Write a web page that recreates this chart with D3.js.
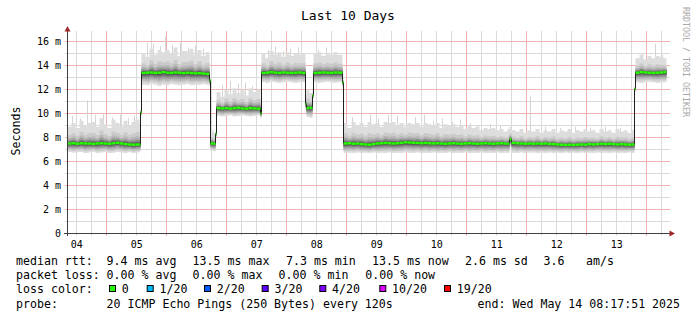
<!DOCTYPE html>
<html>
<head>
<meta charset="utf-8">
<script src="https://cdn.jsdelivr.net/npm/d3@7"></script>
<style>
  body { margin: 0; background: #fff; }
  text { font-family: "DejaVu Sans Mono", monospace; }
</style>
</head>
<body>
<svg width="697" height="321"></svg>
<script>
// graph end, span is 10 days back from here
const endTime = new Date(Date.UTC(2025, 4, 14, 8, 17, 51))
const startTime = new Date(+endTime - 10 * 864e5)
const dataEndHour = 239.6

const yTicks = [0, 2, 4, 6, 8, 10, 12, 14, 16]

// [hours since start, median ms, min ms, typical max ms]
const samples = [
  [0, 7.50, 6.80, 8.9], [1.6, 7.52, 6.72, 9.2], [3.2, 7.48, 6.78, 8.8], [4.8, 7.52, 6.80, 9.4],
  [6.4, 7.50, 6.70, 9.0], [8.0, 7.50, 6.75, 9.2], [9.6, 7.47, 6.80, 9.3], [11.2, 7.50, 6.70, 8.9],
  [12.8, 7.52, 6.75, 9.6], [14.4, 7.50, 6.80, 9.1], [16.0, 7.48, 6.70, 8.8], [17.6, 7.52, 6.72, 9.5],
  [19.2, 7.56, 6.80, 9.2], [20.8, 7.50, 6.75, 8.9], [22.4, 7.45, 6.70, 9.4], [24.0, 7.42, 6.78, 9.0],
  [25.6, 7.40, 6.70, 9.3], [27.2, 7.42, 6.75, 9.5], [28.8, 7.40, 6.80, 9.1],
  [29.2, 10.10, 9.80, 10.4],
  [29.6, 13.38, 12.40, 15.0], [31.2, 13.40, 12.35, 14.7], [32.8, 13.42, 12.45, 15.4], [34.4, 13.38, 12.40, 14.9],
  [36.0, 13.40, 12.30, 15.3], [37.6, 13.45, 12.40, 15.1], [39.2, 13.40, 12.35, 15.3], [40.8, 13.38, 12.45, 15.0],
  [42.4, 13.42, 12.40, 15.5], [44.0, 13.40, 12.35, 14.8], [45.6, 13.36, 12.40, 15.2], [47.2, 13.40, 12.45, 15.2],
  [48.8, 13.38, 12.35, 15.4], [50.4, 13.35, 12.40, 14.9], [52.0, 13.36, 12.40, 15.3], [53.6, 13.33, 12.45, 14.8],
  [55.2, 13.30, 12.40, 15.1],
  [56.8, 12.75, 12.30, 13.0],
  [57.2, 7.50, 6.90, 8.6], [58.4, 7.48, 6.85, 8.4],
  [59.2, 8.30, 8.00, 8.6],
  [59.6, 10.45, 9.80, 11.8], [61.2, 10.42, 9.75, 11.4], [62.8, 10.45, 9.80, 12.0], [64.4, 10.40, 9.85, 11.6],
  [66.0, 10.45, 9.75, 12.1], [67.6, 10.48, 9.80, 11.7], [69.2, 10.42, 9.85, 12.0], [70.8, 10.40, 9.80, 11.5],
  [72.4, 10.45, 9.75, 12.1], [74.0, 10.42, 9.80, 11.8], [75.6, 10.40, 9.85, 12.0],
  [77.2, 10.00, 9.60, 10.3],
  [77.6, 13.38, 12.60, 15.0], [79.2, 13.40, 12.55, 14.6], [80.8, 13.45, 12.65, 15.2], [82.4, 13.40, 12.60, 14.9],
  [84.0, 13.38, 12.55, 15.1], [85.6, 13.42, 12.60, 14.7], [87.2, 13.40, 12.65, 15.1], [88.8, 13.38, 12.60, 14.8],
  [90.4, 13.40, 12.55, 15.0], [92.0, 13.42, 12.60, 14.9], [93.6, 13.38, 12.60, 15.0],
  [95.2, 10.80, 10.30, 11.6], [95.6, 10.45, 9.70, 12.0], [96.8, 10.48, 9.65, 11.7],
  [98.0, 11.50, 11.20, 11.9],
  [98.4, 13.38, 12.60, 15.0], [100.0, 13.40, 12.55, 15.1], [101.6, 13.42, 12.60, 14.8], [103.2, 13.40, 12.65, 15.0],
  [104.8, 13.38, 12.60, 14.9], [106.4, 13.42, 12.55, 15.1], [108.0, 13.40, 12.60, 14.9],
  [110.0, 12.60, 12.20, 13.0],
  [110.4, 7.50, 6.70, 9.2], [112.0, 7.52, 6.72, 8.8], [113.6, 7.48, 6.70, 9.3], [115.2, 7.50, 6.75, 9.0],
  [116.8, 7.45, 6.70, 9.2], [118.4, 7.42, 6.72, 8.9], [120.0, 7.40, 6.70, 9.3], [121.6, 7.45, 6.75, 9.1],
  [123.2, 7.50, 6.70, 9.2], [124.8, 7.52, 6.72, 8.9], [126.4, 7.55, 6.70, 9.3], [128.0, 7.52, 6.75, 9.2],
  [129.6, 7.50, 6.70, 9.3], [131.2, 7.52, 6.72, 9.0], [132.8, 7.55, 6.70, 9.2], [134.4, 7.60, 6.75, 8.9],
  [136.0, 7.58, 6.72, 9.2], [137.6, 7.56, 6.70, 9.1], [139.2, 7.55, 6.75, 9.2], [140.8, 7.52, 6.70, 8.9],
  [142.4, 7.55, 6.72, 9.2], [144.0, 7.52, 6.70, 9.1], [145.6, 7.50, 6.75, 9.0], [147.2, 7.52, 6.70, 9.2],
  [148.8, 7.50, 6.72, 8.8], [150.4, 7.48, 6.70, 9.1], [152.0, 7.50, 6.75, 9.0], [153.6, 7.52, 6.70, 9.1],
  [155.2, 7.50, 6.72, 8.9], [156.8, 7.48, 6.70, 9.0], [158.4, 7.50, 6.75, 8.7], [160.0, 7.52, 6.70, 9.0],
  [161.6, 7.50, 6.72, 8.8], [163.2, 7.48, 6.70, 8.9], [164.8, 7.50, 6.75, 8.6], [166.4, 7.52, 6.70, 8.8],
  [168.0, 7.50, 6.72, 8.7], [169.6, 7.48, 6.70, 8.8], [171.2, 7.50, 6.75, 8.6], [172.8, 7.52, 6.70, 8.7],
  [174.4, 7.50, 6.72, 8.5], [176.0, 7.48, 6.70, 8.7], [176.8, 7.85, 7.20, 8.9], [177.6, 7.55, 6.72, 8.6],
  [179.2, 7.52, 6.70, 8.5], [180.8, 7.50, 6.75, 8.7], [182.4, 7.48, 6.70, 8.4], [184.0, 7.50, 6.72, 8.6],
  [185.6, 7.48, 6.75, 8.5], [187.2, 7.50, 6.70, 8.7], [188.8, 7.48, 6.72, 8.4],
  [190.4, 7.50, 6.70, 8.6], [192.0, 7.46, 6.75, 8.5], [193.6, 7.45, 6.70, 8.7], [195.2, 7.42, 6.72, 8.4],
  [196.8, 7.40, 6.70, 8.6], [198.4, 7.38, 6.75, 8.5], [200.0, 7.40, 6.70, 8.7], [201.6, 7.38, 6.72, 8.4],
  [203.2, 7.40, 6.70, 8.6], [204.8, 7.42, 6.75, 8.5], [206.4, 7.40, 6.70, 8.7], [208.0, 7.45, 6.72, 8.5],
  [209.6, 7.42, 6.70, 8.6], [211.2, 7.45, 6.75, 8.4], [212.8, 7.48, 6.70, 8.7], [214.4, 7.45, 6.72, 8.5],
  [216.0, 7.48, 6.70, 8.6], [217.6, 7.45, 6.75, 8.4], [219.2, 7.42, 6.70, 8.7], [220.8, 7.45, 6.72, 8.5],
  [222.4, 7.42, 6.70, 8.6], [224.0, 7.40, 6.75, 8.4], [225.6, 7.42, 6.70, 8.6],
  [226.8, 12.05, 11.80, 12.3],
  [227.2, 13.40, 12.60, 14.6], [228.8, 13.45, 12.55, 14.9], [230.4, 13.42, 12.60, 14.5], [232.0, 13.40, 12.65, 14.8],
  [233.6, 13.38, 12.60, 14.6], [235.2, 13.40, 12.55, 14.8], [236.8, 13.42, 12.60, 14.7], [238.4, 13.45, 12.60, 14.6]
]

// single slow pings sticking out of the smoke: [hours since start, ms]
const spikes = [
  [2.0, 9.8], [5.2, 9.6], [8.0, 11.1], [11.2, 9.9], [14.4, 10.0], [18.0, 9.7], [21.2, 9.9], [24.4, 9.6], [26.8, 9.8],
  [32.0, 15.9], [34.4, 15.8], [37.2, 15.6], [39.2, 16.4], [42.0, 15.7], [45.2, 15.9], [48.4, 15.5], [51.2, 15.7], [54.4, 15.4],
  [62.0, 12.4], [65.2, 12.7], [68.4, 12.5], [71.2, 12.6], [74.0, 12.3],
  [80.4, 15.3], [83.2, 15.6], [86.4, 15.2], [89.2, 15.4], [92.4, 15.5],
  [100.4, 15.3], [103.6, 15.5], [106.8, 15.1],
  [114.0, 9.7], [117.6, 9.9], [121.2, 10.0], [124.4, 9.6], [128.4, 9.9], [132.0, 9.8], [135.6, 9.5], [139.2, 9.7],
  [142.8, 9.9], [146.4, 9.4], [150.0, 9.6], [154.0, 9.3], [157.2, 9.5], [161.2, 9.2], [164.4, 9.0], [169.2, 9.1],
  [173.2, 9.0], [185.2, 11.5], [191.2, 8.9], [197.2, 8.8], [203.2, 8.9], [209.2, 8.8], [215.2, 8.9], [221.2, 8.8],
  [230.0, 15.0], [235.2, 15.8], [238.0, 14.9]
]

const lossLabels = ["0", "1/20", "2/20", "3/20", "4/20", "10/20", "19/20"]
const lossColors = ["#26ff00", "#00b8ff", "#0059ff", "#5e00ff", "#7e00ff", "#dd00ff", "#ff0000"]
const lossBoxX = [109, 146.7, 204, 261.7, 319.3, 379.3, 444]

const legendRows = [
  [[16, "median rtt:"], [106.6, "9.4 ms avg"], [192.6, "13.5 ms max"], [286, "7.3 ms min"],
   [372, "13.5 ms now"], [465, "2.6 ms sd"], [543.6, "3.6"], [586, "am/s"]],
  [[16, "packet loss:"], [106.6, "0.00 % avg"], [192.6, "0.00 % max"], [278.6, "0.00 % min"], [365.3, "0.00 % now"]],
  [[16, "loss color:"]],
  [[16, "probe:"], [106.6, "20 ICMP Echo Pings (250 Bytes) every 120s"], [477.6, "end: Wed May 14 08:17:51 2025"]]
]

// smoke layers, outer to inner: share of the distance median->max / median->min
const upShare = [1, 0.5, 0.33, 0.24, 0.18, 0.13, 0.1, 0.07, 0.045, 0.02]
const downShare = [1, 0.8, 0.65, 0.52, 0.42, 0.33, 0.25, 0.18, 0.11, 0.05]

let svg = d3.select("svg")
let toDate = h => new Date(+startTime + h * 36e5)

let x = d3.scaleUtc().domain([startTime, endTime]).range([67.5, 667.5])
let y = d3.scaleLinear().domain([0, 200 / 12]).range([233.5, 33.5])

let pts = samples.map(r => ({ t: toDate(r[0]), med: r[1], lo: r[2], hi: r[3] }))
let stepPts = pts.concat([Object.assign({}, pts[pts.length - 1], { t: toDate(dataEndHour) })])
let medianAt = t => pts[d3.bisectRight(pts.map(p => +p.t), +t) - 1].med

// grid
let grid = svg.append("g")
let minorY = d3.range(1, 17, 2)
let hours6 = d3.utcHour.every(6).range(startTime, endTime).filter(d => d.getUTCHours() !== 0)
let days = d3.utcDay.range(startTime, endTime)

grid.selectAll(".mh").data(minorY).enter().append("line")
  .attr("x1", 65).attr("x2", 670)
  .attr("y1", d => y(d)).attr("y2", d => y(d))
  .attr("stroke", "#dadada")
grid.selectAll(".mv").data(hours6).enter().append("line")
  .attr("x1", d => Math.floor(x(d)) + 0.5).attr("x2", d => Math.floor(x(d)) + 0.5)
  .attr("y1", 31).attr("y2", 236)
  .attr("stroke", "#dadada")
grid.selectAll(".Mh").data(yTicks.slice(1)).enter().append("line")
  .attr("x1", 65).attr("x2", 670)
  .attr("y1", d => y(d)).attr("y2", d => y(d))
  .attr("stroke", "#f0b0b0")
grid.selectAll(".Mv").data(days).enter().append("line")
  .attr("x1", d => Math.floor(x(d)) + 0.5).attr("x2", d => Math.floor(x(d)) + 0.5)
  .attr("y1", 31).attr("y2", 236)
  .attr("stroke", "#f0b0b0")

// thin spikes behind the smoke
svg.append("g").selectAll("rect").data(spikes).enter().append("rect")
  .attr("x", d => Math.floor(x(toDate(d[0]))))
  .attr("width", 1)
  .attr("y", d => y(d[1]))
  .attr("height", d => y(medianAt(toDate(d[0]))) - y(d[1]))
  .attr("fill", "#d4d4d4")

// smoke
let smoke = svg.append("g")
upShare.forEach((u, i) => {
  let grey = Math.round(221 - i * 19)
  let area = d3.area()
    .x(d => x(d.t))
    .y0(d => y(d.med - (d.med - d.lo) * downShare[i]))
    .y1(d => y(d.med + (d.hi - d.med) * u))
    .curve(d3.curveStepAfter)
  smoke.append("path")
    .attr("d", area(stepPts))
    .attr("fill", d3.rgb(grey, grey, grey))
})

// median line + loss coloured bands
svg.append("path")
  .attr("d", d3.line().x(d => x(d.t)).y(d => y(d.med)).curve(d3.curveStepAfter)(stepPts))
  .attr("fill", "none")
  .attr("stroke", "#202020")
  .attr("stroke-width", 1)

svg.append("g").selectAll("rect").data(pts).enter().append("rect")
  .attr("x", d => x(d.t))
  .attr("width", (d, i) => x(stepPts[i + 1].t) - x(d.t))
  .attr("y", d => y(d.med) - 1.2)
  .attr("height", 2.4)
  .attr("fill", lossColors[0])

// axes
svg.append("line").attr("x1", 67.5).attr("x2", 67.5).attr("y1", 236).attr("y2", 30)
  .attr("stroke", "#404040")
svg.append("line").attr("x1", 64).attr("x2", 671).attr("y1", 233.5).attr("y2", 233.5)
  .attr("stroke", "#404040")
svg.append("path").attr("d", "M67.5,26L64.5,31.5L70.5,31.5Z").attr("fill", "#a02828")
svg.append("path").attr("d", "M675,233.5L669.5,230.5L669.5,236.5Z").attr("fill", "#a02828")

svg.append("g").selectAll("text").data(yTicks).enter().append("text")
  .attr("x", 61).attr("y", d => y(d) + 3.6)
  .attr("text-anchor", "end")
  .attr("font-size", "10px")
  .text(d => d === 0 ? "0" : d + " m")

let noons = days.map(d => d3.utcHour.offset(d, -12)).concat([d3.utcHour.offset(days[days.length - 1], 12)])
svg.append("g").selectAll("text").data(noons.filter(d => d > startTime && d < endTime)).enter().append("text")
  .attr("x", d => x(d)).attr("y", 248)
  .attr("text-anchor", "middle")
  .attr("font-size", "10px")
  .text(d3.utcFormat("%d"))

// titles
svg.append("text").attr("x", 348).attr("y", 20).attr("text-anchor", "middle")
  .attr("font-size", "13px").text("Last 10 Days")
svg.append("text").attr("transform", "translate(20,131) rotate(-90)").attr("text-anchor", "middle")
  .attr("font-size", "11.6px").text("Seconds")
svg.append("text").attr("transform", "translate(683,7) rotate(90)")
  .attr("font-size", "8.3px").attr("fill", "#a8a8a8").text("RRDTOOL / TOBI OETIKER")

// legend
let legend = svg.append("g").attr("font-size", "11.6px")
legendRows.forEach((row, r) => {
  row.forEach(c => {
    legend.append("text").attr("x", c[0]).attr("y", 265 + r * 14.2)
      .attr("xml:space", "preserve").text(c[1])
  })
})
lossLabels.forEach((l, i) => {
  legend.append("rect").attr("x", lossBoxX[i] + 0.5).attr("y", 285.5)
    .attr("width", 6).attr("height", 6)
    .attr("fill", lossColors[i]).attr("stroke", "#000")
  legend.append("text").attr("x", lossBoxX[i] + 12.8).attr("y", 265 + 2 * 14.2).text(l)
})
</script>
</body>
</html>
